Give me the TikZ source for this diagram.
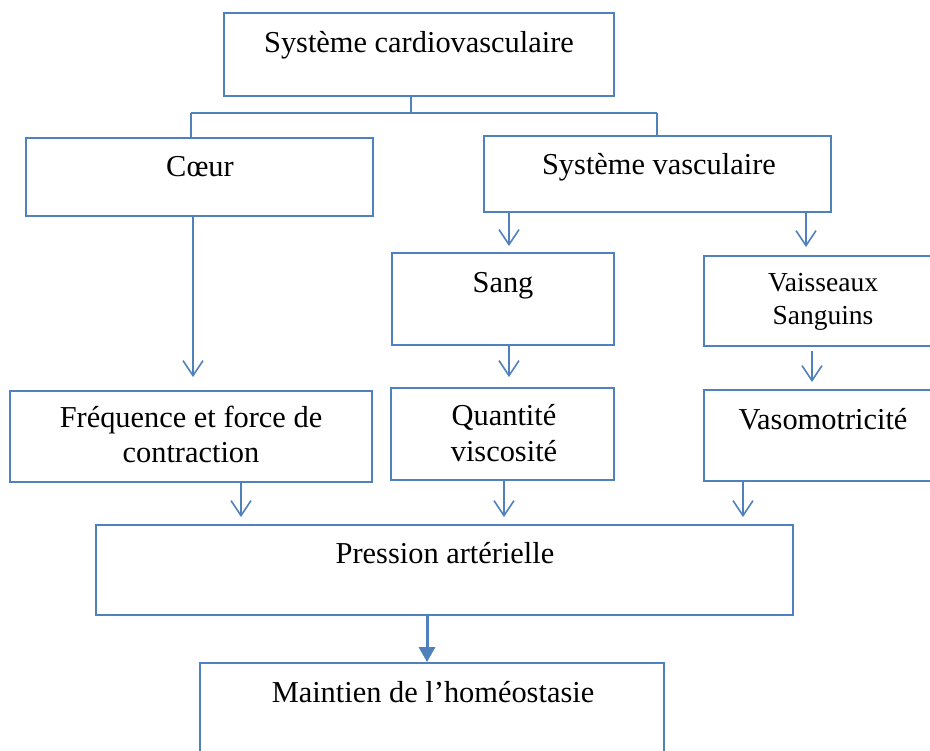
\documentclass[tikz,border=0pt]{standalone}
\usepackage{fontspec}
\setmainfont{Liberation Serif}
\usetikzlibrary{arrows.meta}
\definecolor{boxblue}{HTML}{4F81BD}
\tikzset{
  box/.style={draw=boxblue, line width=1.8pt, rectangle, inner sep=0pt},
  txt/.style={font=\fontsize{30.4}{35}\selectfont, inner sep=0pt, anchor=base, text=black},
  smalltxt/.style={font=\fontsize{27.5}{33}\selectfont, inner sep=0pt, anchor=base, text=black},
  link/.style={draw=boxblue, line width=1.6pt},
  arr/.style={draw=boxblue, line width=1.6pt, -{Straight Barb[length=15pt,width=20pt]}},
  bigarr/.style={draw=boxblue, line width=3pt, -{Triangle[length=15pt,width=16pt]}}
}
\begin{document}
\begin{tikzpicture}[x=1pt,y=-1pt]
\useasboundingbox (0,0) rectangle (930,751);
\clip (0,0) rectangle (930,751);
\fill[white] (0,0) rectangle (930,751);

% boxes
\node[box, minimum width=390pt, minimum height=83pt] (b1) at (419,54.5) {};
\node[box, minimum width=347pt, minimum height=78pt] (coeur) at (199.5,177) {};
\node[box, minimum width=347pt, minimum height=76pt] (sysv) at (657.5,174) {};
\node[box, minimum width=222pt, minimum height=92pt] (sang) at (503,299) {};
\node[box, minimum width=238pt, minimum height=90pt] (vais) at (823,301) {};
\node[box, minimum width=362pt, minimum height=91pt] (freq) at (191,436.5) {};
\node[box, minimum width=223pt, minimum height=92pt] (quant) at (502.5,434) {};
\node[box, minimum width=238pt, minimum height=91pt] (vaso) at (823,435.5) {};
\node[box, minimum width=697pt, minimum height=90pt] (pres) at (444.5,570) {};
\node[box, minimum width=464pt, minimum height=97pt] (main) at (432,711.5) {};

% texts
\node[txt] (t1) at (419,53) {Système cardiovasculaire};
\node[txt] (tcoeur) at (200,177) {Cœur};
\node[txt] (tsysv) at (659,175) {Système vasculaire};
\node[txt] (tsang) at (503,293) {Sang};
\node[smalltxt] (tvais1) at (823,292) {Vaisseaux};
\node[smalltxt] (tvais2) at (823,325) {Sanguins};
\node[txt] (tfreq1) at (191,428) {Fréquence et force de};
\node[txt] (tfreq2) at (191,463) {contraction};
\node[txt] (tquant1) at (504,426) {Quantité};
\node[txt] (tquant2) at (504,461) {viscosité};
\node[txt] (tvaso) at (823,430) {Vasomotricité};
\node[txt] (tpres) at (445,563) {Pression artérielle};
\node[txt] (tmain) at (433,702) {Maintien de l’homéostasie};

% tree connector
\coordinate (j) at (411,113);
\coordinate (jl) at (191,113);
\coordinate (jr) at (657,113);
\draw[link] (b1.south -| j) -- (j);
\draw[link] (jl) -- (jr);
\draw[link] (jl) -- (jl |- coeur.north);
\draw[link] (jr) -- (jr |- sysv.north);

% arrows
\draw[arr] ([xshift=-6.5pt]coeur.south) -- ([xshift=2pt,yshift=13pt]freq.north);
\draw[arr] ([xshift=-148.5pt]sysv.south) -- ([xshift=6pt,yshift=6pt]sang.north);
\draw[arr] ([xshift=148.5pt]sysv.south) -- ([xshift=-17pt,yshift=8pt]vais.north);
\draw[arr] ([xshift=6pt]sang.south) -- ([xshift=6.5pt,yshift=10pt]quant.north);
\draw[arr] ([xshift=-11pt,yshift=-4pt]vais.south) -- ([xshift=-11pt,yshift=7pt]vaso.north);
\draw[arr] ([xshift=50pt]freq.south) -- ([xshift=-203.5pt,yshift=7pt]pres.north);
\draw[arr] ([xshift=1.5pt]quant.south) -- ([xshift=59.5pt,yshift=7pt]pres.north);
\draw[arr] ([xshift=-80pt]vaso.south) -- ([xshift=298.5pt,yshift=7pt]pres.north);
\draw[bigarr] ([xshift=-17.5pt]pres.south) -- ([xshift=-5pt]main.north);
\end{tikzpicture}
\end{document}
